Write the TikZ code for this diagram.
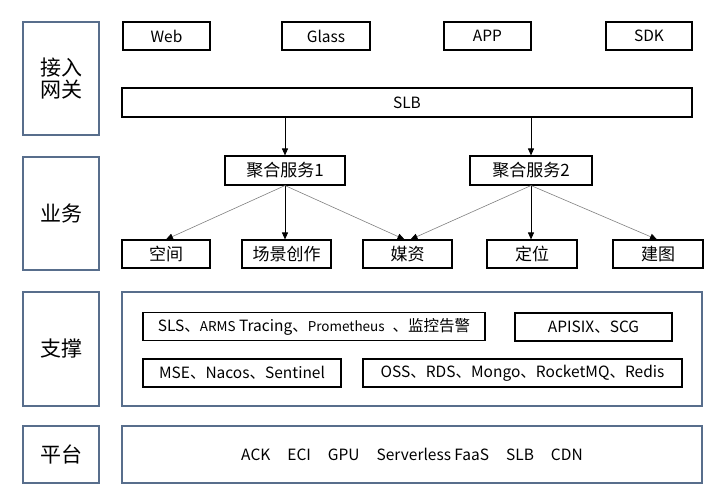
\documentclass[tikz,border=0pt]{standalone}
\usepackage{fontspec}
\setmainfont{Noto Sans CJK SC}
\usepackage{xcolor}
\usetikzlibrary{arrows.meta,positioning}
\definecolor{layerblue}{RGB}{88,110,140}

\begin{document}
\begin{tikzpicture}[x=1pt,y=-1pt,
    layer/.style={draw=layerblue, line width=1.1pt, minimum width=76pt, font=\fontsize{21}{24}\selectfont, align=center, inner sep=0pt},
    frame/.style={draw=layerblue, line width=1.1pt, minimum width=580pt, inner sep=0pt},
    box/.style={draw=black, line width=1.1pt, minimum height=28pt, inner sep=0pt, font=\fontsize{15.5}{18}\selectfont},
    svc/.style={box, minimum width=89pt, font=\fontsize{17}{20}\selectfont},
    arr/.style={-{Triangle[length=7pt,width=6pt]}, line width=0.9pt},
    thin/.style={-{Triangle[length=7pt,width=6pt,color=black]}, draw=gray, line width=0.6pt}]
    \useasboundingbox (0,0) rectangle (720,500);

    % layer labels
    \node[layer, minimum height=113pt] (gwlabel) at (61,78.5) {接入\\[-2pt]网关};
    \node[layer, minimum height=113pt] (bizlabel) at (61,213.5) {业务};
    \node[layer, minimum height=114pt] (suplabel) at (61,349) {支撑};
    \node[layer, minimum height=57pt] (platlabel) at (61,454.5) {平台};

    % access gateway
    \node[box, minimum width=87pt] (web) at (166.5,36) {Web};
    \node[box, minimum width=88pt] (glass) at (326,36) {Glass};
    \node[box, minimum width=87pt] (app) at (487.5,36) {APP};
    \node[box, minimum width=86pt] (sdk) at (649,36) {SDK};
    \node[box, minimum width=570pt, minimum height=29pt] (slb) at (407,102.5) {SLB};

    % business
    \node[box, minimum width=120pt, minimum height=29pt, font=\fontsize{17}{20}\selectfont] (agg1) at (285,170.5) {聚合服务1};
    \node[box, minimum width=122pt, minimum height=29pt, font=\fontsize{17}{20}\selectfont] (agg2) at (531,170.5) {聚合服务2};
    \node[svc, minimum width=88pt] (space) at (166,254) {空间};
    \node[svc] (scene) at (286.5,254) {场景创作};
    \node[svc] (media) at (407.5,254) {媒资};
    \node[svc, minimum width=90pt] (locate) at (532,254) {定位};
    \node[svc, minimum width=90pt] (mapping) at (658,254) {建图};

    \draw[arr] (slb.south -| agg1.north) -- (agg1.north);
    \draw[arr] (slb.south -| agg2.north) -- (agg2.north);
    \draw[thin] (agg1.south) -- (space.north);
    \draw[arr] (agg1.south) -- (scene.north -| agg1.south);
    \draw[thin] (agg1.south) -- ([xshift=-3pt]media.north);
    \draw[thin] (agg2.south) -- ([xshift=3pt]media.north);
    \draw[arr] (agg2.south) -- (locate.north -| agg2.south);
    \draw[thin] (agg2.south) -- ([xshift=-1pt]mapping.north);

    % support
    \node[frame, minimum height=114pt] (support) at (412,349) {};
    \node[box, minimum width=342pt] (monitor) at (314,326.5) {SLS、{\fontsize{13.5}{16}\selectfont ARMS} Tracing、{\fontsize{13.5}{16}\selectfont Prometheus}\hspace{8pt}、监控告警};
    \node[box, minimum width=157pt] (gateway) at (593.5,327) {APISIX、SCG};
    \node[box, minimum width=198pt] (registry) at (242,373) {MSE、Nacos、Sentinel};
    \node[box, minimum width=319pt] (storage) at (522.5,373) {OSS、RDS、Mongo、RocketMQ、Redis};

    % platform
    \node[frame, minimum height=57pt, font=\fontsize{15.5}{18}\selectfont] (platform) at (412,454.5)
      {ACK\hspace{17pt}ECI\hspace{17pt}GPU\hspace{17pt}Serverless FaaS\hspace{17pt}SLB\hspace{17pt}CDN};
\end{tikzpicture}
\end{document}
